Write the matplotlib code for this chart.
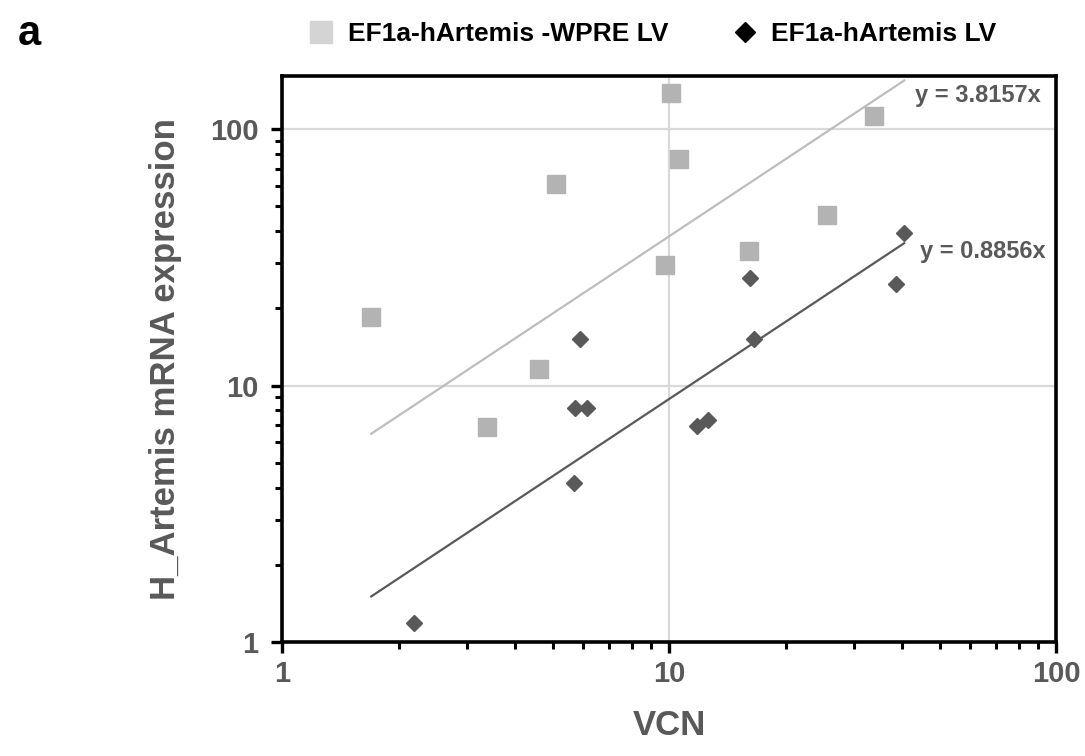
import numpy as np
import matplotlib
matplotlib.use("Agg")
import matplotlib.pyplot as plt
from matplotlib.lines import Line2D

# EF1a-hArtemis -WPRE LV (squares)
wpre_vcn = [1.70, 3.39, 4.61, 5.10, 9.78, 10.14, 10.6, 16.1, 25.6, 33.9]
wpre_expr = [18.5, 6.87, 11.6, 61.0, 29.6, 137.7, 76.4, 33.5, 46.2, 112.4]
wpre_slope = 3.8157

# EF1a-hArtemis LV (diamonds)
lv_vcn = [2.19, 5.68, 5.72, 6.13, 5.89, 11.8, 12.6, 16.2, 16.6, 38.7, 40.5]
lv_expr = [1.19, 4.16, 8.15, 8.15, 15.2, 6.95, 7.34, 26.2, 15.2, 24.9, 39.2]
lv_slope = 0.8856

GREY = "#595959"
plt.rcParams["font.family"] = ["Liberation Sans", "DejaVu Sans"]
plt.rcParams["font.weight"] = "bold"

fig = plt.figure(figsize=(10.85, 7.56), dpi=100)
ax = fig.add_axes([0.26, 0.1508, 0.7133, 0.7487])

ax.set_xscale("log")
ax.set_yscale("log")
ax.set_xlim(1, 100)
ax.set_ylim(1, 161)

ax.grid(False)
for v in [10, 100]:
    ax.axhline(v, color="#d9d9d9", lw=1.6, zorder=0)
ax.axvline(10, color="#d9d9d9", lw=1.6, zorder=0)

# trendlines through the origin (Excel style), spanning the data range
xr = np.array([min(wpre_vcn + lv_vcn), max(wpre_vcn + lv_vcn)])
ax.plot(xr, wpre_slope * xr, color="#bdbdbd", lw=1.6, zorder=1)
ax.plot(xr, lv_slope * xr, color=GREY, lw=1.6, zorder=1)

ax.plot(wpre_vcn, wpre_expr, "s", color="#b3b3b3", ms=13, mec="#b3b3b3", zorder=2)
ax.plot(lv_vcn, lv_expr, "D", color=GREY, ms=8.5, mec=GREY, zorder=3)

ax.text(43.2, 135.7, f"y = {wpre_slope}x", color=GREY, fontsize=17, fontweight="bold", va="center")
ax.text(44.5, 33.2, f"y = {lv_slope}x", color=GREY, fontsize=17, fontweight="bold", va="center")

for s in ax.spines.values():
    s.set_linewidth(2.6)
    s.set_color("black")

ax.set_xticks([1, 10, 100])
ax.set_xticklabels(["1", "10", "100"])
ax.set_yticks([1, 10, 100])
ax.set_yticklabels(["1", "10", "100"])
ax.tick_params(which="major", direction="out", length=8, width=2.4, labelsize=21,
               labelcolor=GREY, color="black")
ax.tick_params(which="minor", direction="out", length=5, width=2.2, color="black")
ax.tick_params(axis="x", which="major", pad=5)
ax.tick_params(axis="y", which="major", pad=9)
for lab in ax.get_xticklabels() + ax.get_yticklabels():
    lab.set_fontweight("bold")

ax.set_xlabel("VCN", fontsize=25, fontweight="bold", color=GREY, labelpad=15)
ax.set_ylabel("H_Artemis mRNA expression", fontsize=25, fontweight="bold", color=GREY, labelpad=20)

handles = [
    Line2D([], [], ls="none", marker="s", ms=16, color="#d4d4d4", mec="#d4d4d4"),
    Line2D([], [], ls="none", marker="D", ms=10, color="black", mec="black"),
]
fig.legend(handles, ["EF1a-hArtemis -WPRE LV", "EF1a-hArtemis LV"], loc="center left",
           bbox_to_anchor=(0.262, 0.955), ncol=2, frameon=False,
           handletextpad=0.5, columnspacing=2.4, handlelength=1.0,
           prop={"weight": "bold", "size": 19})

fig.text(0.016, 0.955, "a", fontsize=30, fontweight="bold", color="black", va="center")

fig.savefig("out.png", dpi=100)
